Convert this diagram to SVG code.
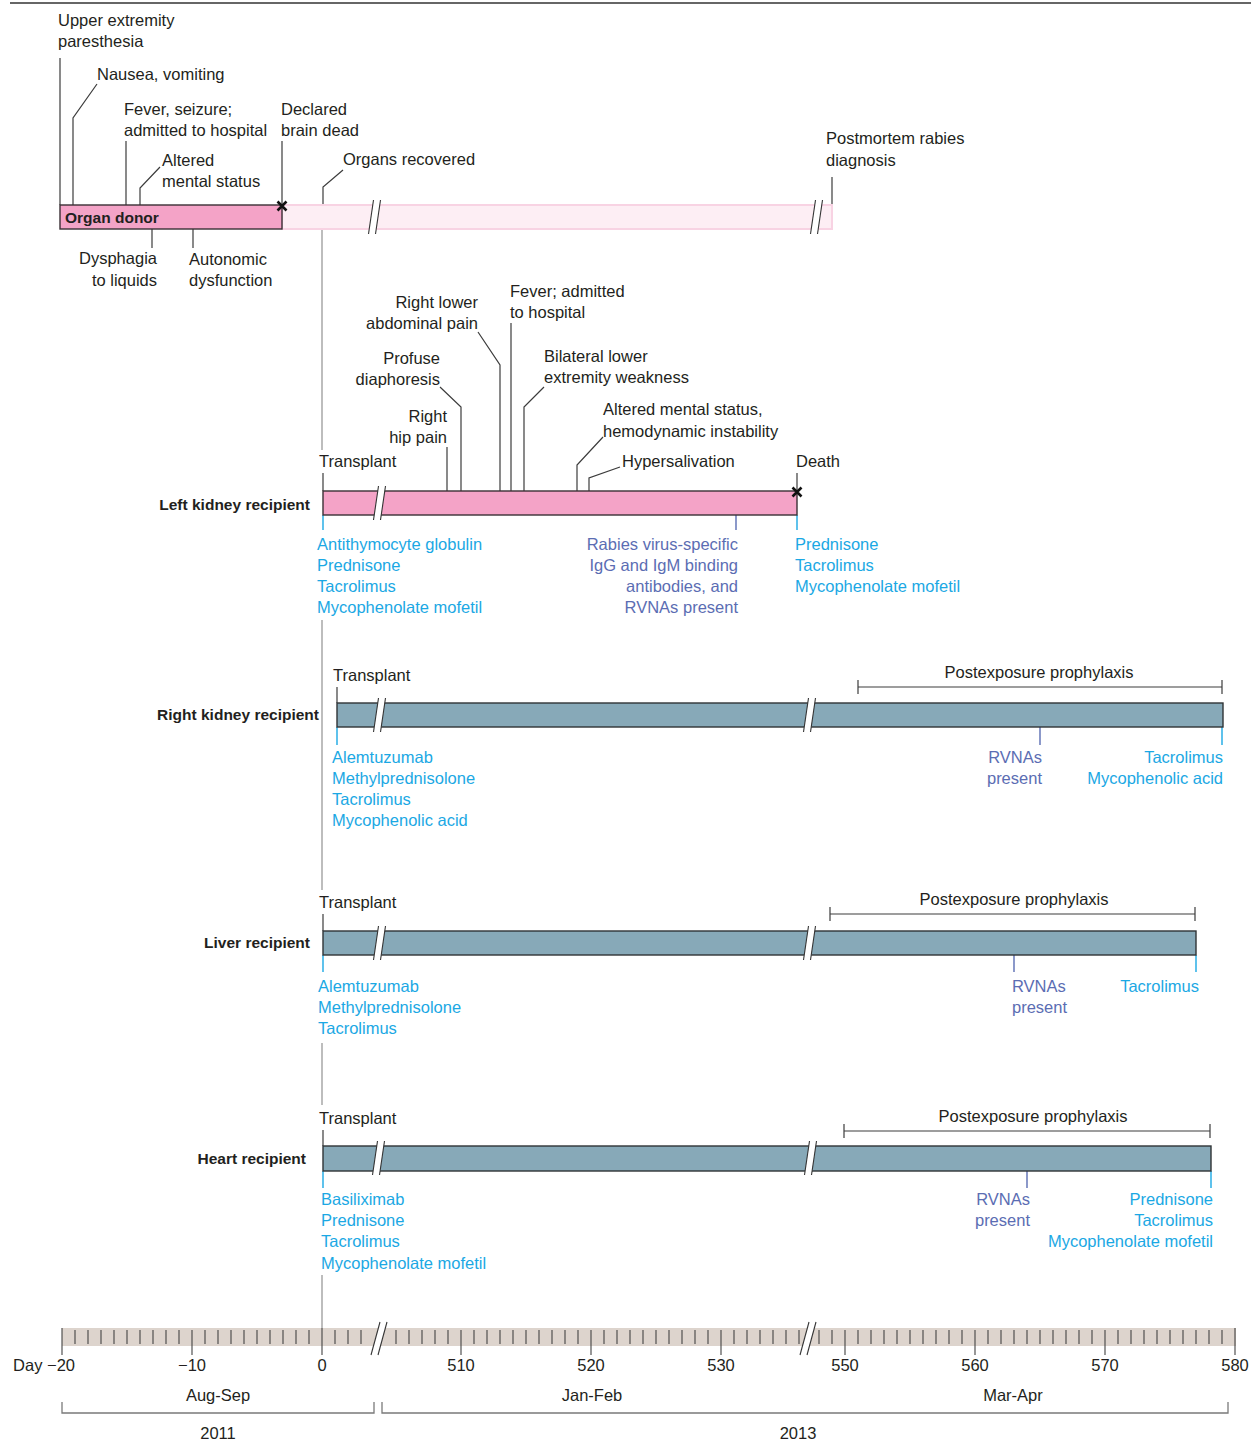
<svg xmlns="http://www.w3.org/2000/svg" xmlns:xlink="http://www.w3.org/1999/xlink" width="1251" height="1445" viewBox="0 0 1251 1445">
<defs>
<style>
text{font-family:"Liberation Sans",Arial,sans-serif;font-size:16.5px;fill:#231f20}
.b{font-weight:bold;font-size:15.5px}
.e{text-anchor:end}
.m{text-anchor:middle}
.cy{fill:#1ba8e4}
.pu{fill:#5b6db3}
.ld{stroke:#3c3c3c;stroke-width:1.2;fill:none}
.lcy{stroke:#1ba8e4;stroke-width:1.4}
.lpu{stroke:#5b6db3;stroke-width:1.4}
.day0{stroke:#9a9a9a;stroke-width:1.3;fill:none}
.pk{fill:#f4a3c7;stroke:#3a3035;stroke-width:1.4}
.lpk{fill:#fdeef4;stroke:#f8d3e3;stroke-width:2}
.bl{fill:#87a9b8;stroke:#2f3436;stroke-width:1.4}
.brkl{stroke:#333;stroke-width:1.1}
.xm{stroke:#111;stroke-width:2.6}
.tk{stroke:#444;stroke-width:1.1;fill:none}
.br{stroke:#7a7a7a;stroke-width:1.3;fill:none}
</style>
<g id="brk">
<polygon points="-0.5,-17 6.5,-17 1.5,17 -5.5,17" fill="#fff"/>
<line class="brkl" x1="-0.5" y1="-17" x2="-5.5" y2="17"/>
<line class="brkl" x1="6.5" y1="-17" x2="1.5" y2="17"/>
</g>
<g id="brkax">
<polygon points="3,-16 10,-16 1,17 -6,17" fill="#fff"/>
<line class="brkl" x1="3" y1="-16" x2="-6" y2="17"/>
<line class="brkl" x1="10" y1="-16" x2="1" y2="17"/>
</g>
</defs>
<rect width="1251" height="1445" fill="#fff"/>
<line x1="10" y1="3" x2="1251" y2="3" stroke="#333" stroke-width="1.5"/>

<g id="connectors">
<path class="day0" d="M322 229V450 M322 620V890 M322 1043V1105 M322 1275V1328"/>
<path class="ld" d="M60 58V205 M73 205V118L97 84 M126 141V205 M140 205V188L160 167 M282 141V205 M323 205V187L343 170 M832 177V205 M152 229V248 M193 229V248"/>
<path class="ld" d="M323 473V491 M447 447V491 M461 491V407L440 387 M500 491V365L478 332 M511 323V491 M524 491V407L544 387 M577 491V465L603 437 M589 491V478L620 467 M797 473V491"/>
<line class="lcy" x1="323" y1="515" x2="323" y2="530"/>
<line class="lpu" x1="736" y1="515" x2="736" y2="530"/>
<line class="lcy" x1="797" y1="515" x2="797" y2="530"/>
<path class="ld" d="M337 687V703 M858 680V694 M858 687H1222 M1222 680V694"/>
<line class="lcy" x1="337" y1="727" x2="337" y2="745"/>
<line class="lpu" x1="1040" y1="727" x2="1040" y2="745"/>
<line class="lcy" x1="1222" y1="727" x2="1222" y2="745"/>
<path class="ld" d="M323 914V931 M830 907V921 M830 914H1195 M1195 907V921"/>
<line class="lcy" x1="323" y1="955" x2="323" y2="972"/>
<line class="lpu" x1="1014" y1="955" x2="1014" y2="972"/>
<line class="lcy" x1="1196" y1="955" x2="1196" y2="972"/>
<path class="ld" d="M323 1130V1146 M844 1124V1138 M844 1131H1210 M1210 1124V1138"/>
<line class="lcy" x1="323" y1="1171" x2="323" y2="1188"/>
<line class="lpu" x1="1027" y1="1171" x2="1027" y2="1188"/>
<line class="lcy" x1="1211" y1="1171" x2="1211" y2="1188"/>
</g>

<g id="organ-donor">
<rect class="lpk" x="282" y="205" width="550" height="24"/>
<rect class="pk" x="60" y="205" width="222" height="24"/>
<use href="#brk" x="374" y="217"/>
<use href="#brk" x="816" y="217"/>
<path class="xm" d="M277.5 201.5L286.5 210.5M286.5 201.5L277.5 210.5"/>
<text class="b" x="65" y="223">Organ donor</text>
<text x="58" y="26">Upper extremity</text>
<text x="58" y="47">paresthesia</text>
<text x="97" y="80">Nausea, vomiting</text>
<text x="124" y="115">Fever, seizure;</text>
<text x="124" y="136">admitted to hospital</text>
<text x="281" y="115">Declared</text>
<text x="281" y="136">brain dead</text>
<text x="162" y="166">Altered</text>
<text x="162" y="187">mental status</text>
<text x="343" y="165">Organs recovered</text>
<text x="826" y="144">Postmortem rabies</text>
<text x="826" y="166">diagnosis</text>
<text class="e" x="157" y="264">Dysphagia</text>
<text class="e" x="157" y="286">to liquids</text>
<text x="189" y="265">Autonomic</text>
<text x="189" y="286">dysfunction</text>
</g>

<g id="left-kidney">
<rect class="pk" x="323" y="491" width="474" height="24"/>
<use href="#brk" x="379" y="503"/>
<path class="xm" d="M792.5 487.5L801.5 496.5M801.5 487.5L792.5 496.5"/>
<text class="b e" x="310" y="510">Left kidney recipient</text>
<text x="319" y="467">Transplant</text>
<text x="796" y="467">Death</text>
<text class="e" x="447" y="422">Right</text>
<text class="e" x="447" y="443">hip pain</text>
<text class="e" x="440" y="364">Profuse</text>
<text class="e" x="440" y="385">diaphoresis</text>
<text class="e" x="478" y="308">Right lower</text>
<text class="e" x="478" y="329">abdominal pain</text>
<text x="510" y="297">Fever; admitted</text>
<text x="510" y="318">to hospital</text>
<text x="544" y="362">Bilateral lower</text>
<text x="544" y="383">extremity weakness</text>
<text x="603" y="415">Altered mental status,</text>
<text x="603" y="437">hemodynamic instability</text>
<text x="622" y="467">Hypersalivation</text>
<text class="cy" x="317" y="550">Antithymocyte globulin</text>
<text class="cy" x="317" y="571">Prednisone</text>
<text class="cy" x="317" y="592">Tacrolimus</text>
<text class="cy" x="317" y="613">Mycophenolate mofetil</text>
<text class="pu e" x="738" y="550">Rabies virus-specific</text>
<text class="pu e" x="738" y="571">IgG and IgM binding</text>
<text class="pu e" x="738" y="592">antibodies, and</text>
<text class="pu e" x="738" y="613">RVNAs present</text>
<text class="cy" x="795" y="550">Prednisone</text>
<text class="cy" x="795" y="571">Tacrolimus</text>
<text class="cy" x="795" y="592">Mycophenolate mofetil</text>
</g>

<g id="right-kidney">
<rect class="bl" x="337" y="703" width="886" height="24"/>
<use href="#brk" x="379" y="715"/>
<use href="#brk" x="809" y="715"/>
<text class="b e" x="319" y="720">Right kidney recipient</text>
<text x="333" y="681">Transplant</text>
<text class="m" x="1039" y="678">Postexposure prophylaxis</text>
<text class="cy" x="332" y="763">Alemtuzumab</text>
<text class="cy" x="332" y="784">Methylprednisolone</text>
<text class="cy" x="332" y="805">Tacrolimus</text>
<text class="cy" x="332" y="826">Mycophenolic acid</text>
<text class="pu e" x="1042" y="763">RVNAs</text>
<text class="pu e" x="1042" y="784">present</text>
<text class="cy e" x="1223" y="763">Tacrolimus</text>
<text class="cy e" x="1223" y="784">Mycophenolic acid</text>
</g>

<g id="liver">
<rect class="bl" x="323" y="931" width="873" height="24"/>
<use href="#brk" x="379" y="943"/>
<use href="#brk" x="809" y="943"/>
<text class="b e" x="310" y="948">Liver recipient</text>
<text x="319" y="908">Transplant</text>
<text class="m" x="1014" y="905">Postexposure prophylaxis</text>
<text class="cy" x="318" y="992">Alemtuzumab</text>
<text class="cy" x="318" y="1013">Methylprednisolone</text>
<text class="cy" x="318" y="1034">Tacrolimus</text>
<text class="pu" x="1012" y="992">RVNAs</text>
<text class="pu" x="1012" y="1013">present</text>
<text class="cy e" x="1199" y="992">Tacrolimus</text>
</g>

<g id="heart">
<rect class="bl" x="323" y="1146" width="888" height="25"/>
<use href="#brk" x="378" y="1158"/>
<use href="#brk" x="810" y="1158"/>
<text class="b e" x="306" y="1164">Heart recipient</text>
<text x="319" y="1124">Transplant</text>
<text class="m" x="1033" y="1122">Postexposure prophylaxis</text>
<text class="cy" x="321" y="1205">Basiliximab</text>
<text class="cy" x="321" y="1226">Prednisone</text>
<text class="cy" x="321" y="1247">Tacrolimus</text>
<text class="cy" x="321" y="1269">Mycophenolate mofetil</text>
<text class="pu e" x="1030" y="1205">RVNAs</text>
<text class="pu e" x="1030" y="1226">present</text>
<text class="cy e" x="1213" y="1205">Prednisone</text>
<text class="cy e" x="1213" y="1226">Tacrolimus</text>
<text class="cy e" x="1213" y="1247">Mycophenolate mofetil</text>
</g>

<g id="axis">
<rect x="62" y="1328" width="1174" height="18" fill="#ddd4cd"/>
<path class="tk" d="M75 1330V1344M88 1330V1344M101 1330V1344M114 1330V1344M127 1330V1344M140 1330V1344M153 1330V1344M166 1330V1344M179 1330V1344M205 1330V1344M218 1330V1344M231 1330V1344M244 1330V1344M257 1330V1344M270 1330V1344M283 1330V1344M296 1330V1344M309 1330V1344M335 1330V1344M348 1330V1344M361 1330V1344
M396 1330V1344M409 1330V1344M422 1330V1344M435 1330V1344M448 1330V1344M474 1330V1344M487 1330V1344M500 1330V1344M513 1330V1344M526 1330V1344M539 1330V1344M552 1330V1344M565 1330V1344M578 1330V1344M604 1330V1344M617 1330V1344M630 1330V1344M643 1330V1344M656 1330V1344M669 1330V1344M682 1330V1344M695 1330V1344M708 1330V1344M734 1330V1344M747 1330V1344M760 1330V1344M773 1330V1344M786 1330V1344M799 1330V1344
M819 1330V1344M832 1330V1344M858 1330V1344M871 1330V1344M884 1330V1344M897 1330V1344M910 1330V1344M923 1330V1344M936 1330V1344M949 1330V1344M962 1330V1344M988 1330V1344M1001 1330V1344M1014 1330V1344M1027 1330V1344M1040 1330V1344M1053 1330V1344M1066 1330V1344M1079 1330V1344M1092 1330V1344M1118 1330V1344M1131 1330V1344M1144 1330V1344M1157 1330V1344M1170 1330V1344M1183 1330V1344M1196 1330V1344M1209 1330V1344M1222 1330V1344"/>
<path class="tk" d="M62 1328V1355M192 1330V1355M322 1328V1355M461 1330V1355M591 1330V1355M721 1330V1355M845 1330V1355M975 1330V1355M1105 1330V1355M1235 1328V1355"/>
<use href="#brkax" x="377" y="1338"/>
<use href="#brkax" x="806" y="1338"/>
<text class="e" x="75" y="1371">Day −20</text>
<text class="m" x="192" y="1371">−10</text>
<text class="m" x="322" y="1371">0</text>
<text class="m" x="461" y="1371">510</text>
<text class="m" x="591" y="1371">520</text>
<text class="m" x="721" y="1371">530</text>
<text class="m" x="845" y="1371">550</text>
<text class="m" x="975" y="1371">560</text>
<text class="m" x="1105" y="1371">570</text>
<text class="m" x="1235" y="1371">580</text>
<text class="m" x="218" y="1401">Aug-Sep</text>
<text class="m" x="592" y="1401">Jan-Feb</text>
<text class="m" x="1013" y="1401">Mar-Apr</text>
<path class="br" d="M62 1402V1413H374V1402 M382 1402V1413H1228V1402"/>
<text class="m" x="218" y="1439">2011</text>
<text class="m" x="798" y="1439">2013</text>
</g>
</svg>
